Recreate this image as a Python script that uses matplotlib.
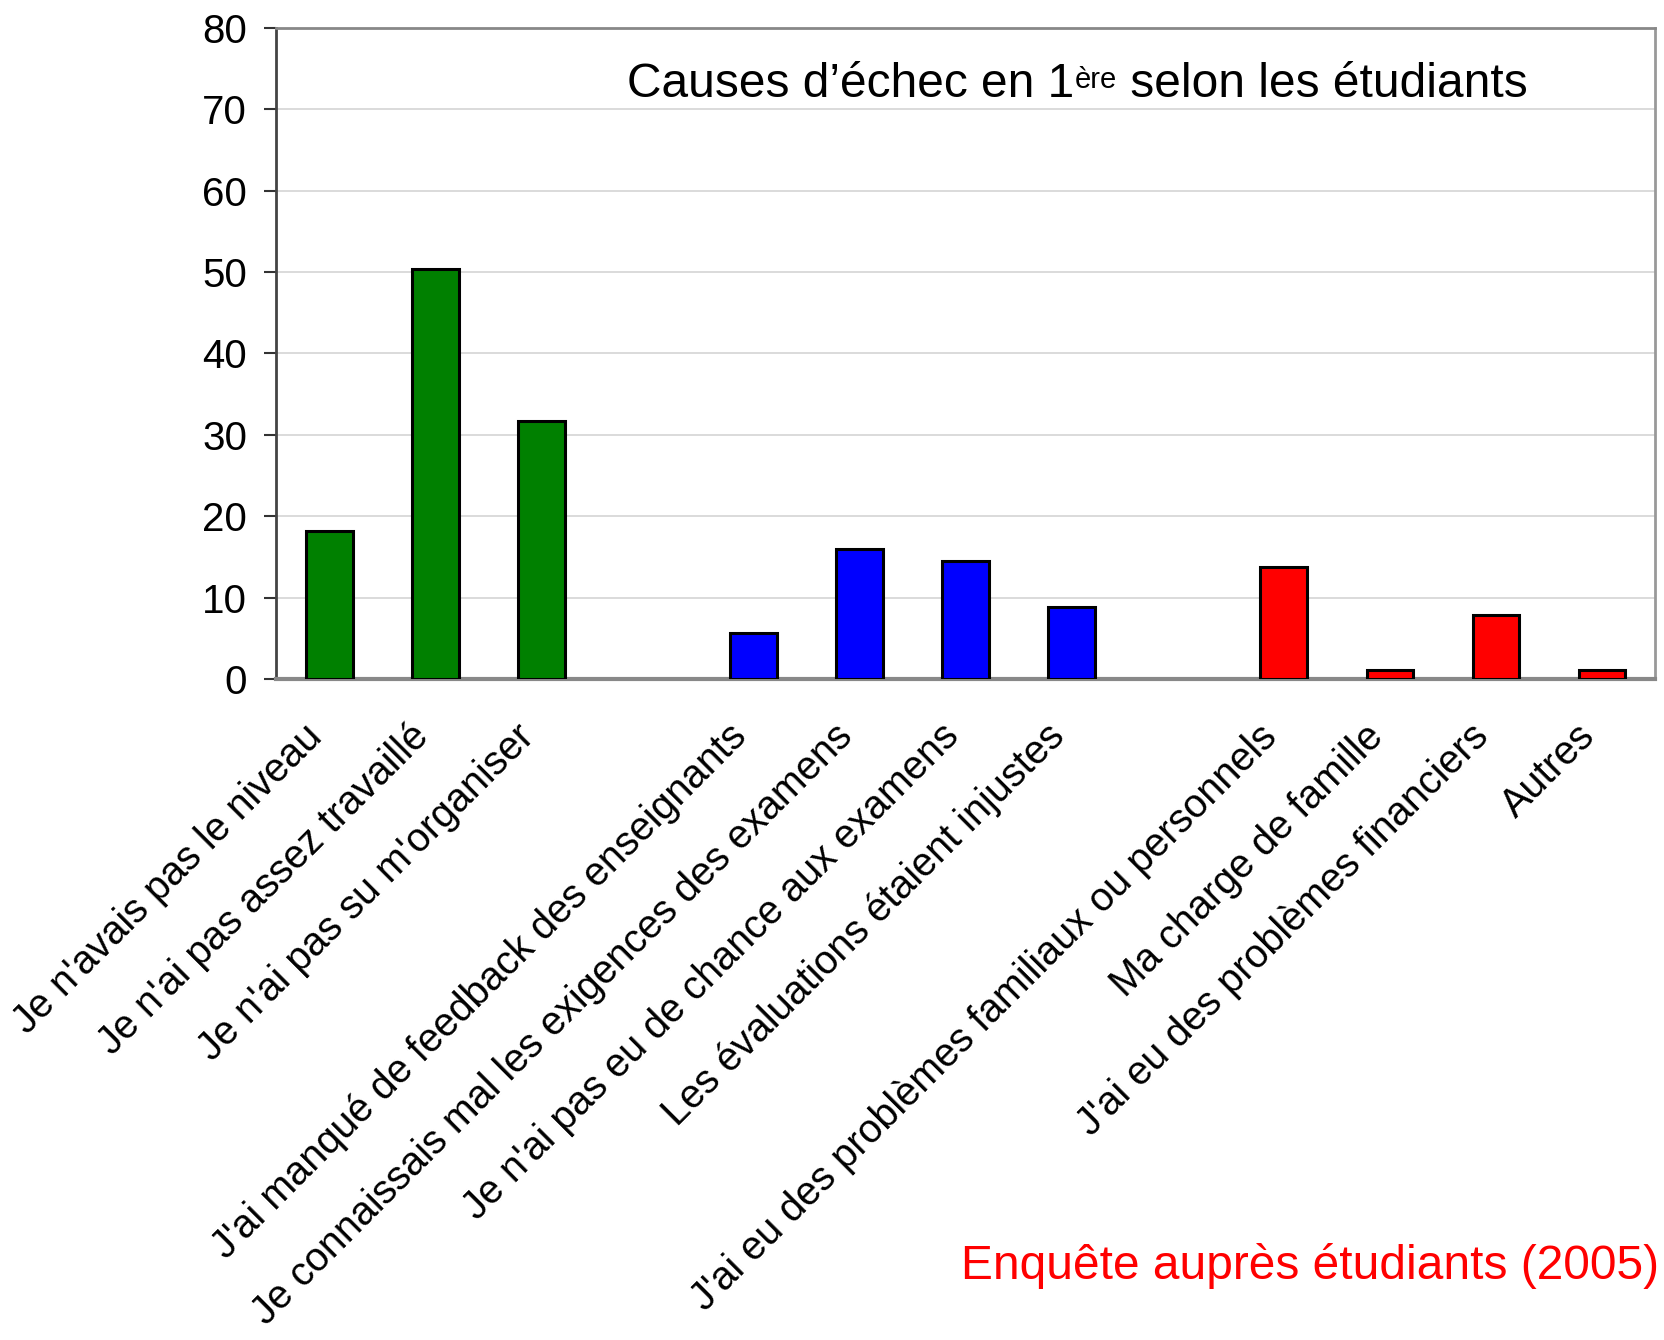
import matplotlib
matplotlib.use("Agg")
import matplotlib.pyplot as plt
from matplotlib.transforms import ScaledTranslation

plt.rcParams['font.family'] = ['Liberation Sans', 'DejaVu Sans']

# three groups of causes, separated by an empty slot
study_labels = ["Je n'avais pas le niveau", "Je n'ai pas assez travaillé",
                "Je n'ai pas su m'organiser"]
study_values = [18.2, 50.4, 31.7]

exam_labels = ["J'ai manqué de feedback des enseignants",
               "Je connaissais mal les exigences des examens",
               "Je n'ai pas eu de chance aux examens",
               "Les évaluations étaient injustes"]
exam_values = [5.6, 16.0, 14.5, 8.9]

perso_labels = ["J'ai eu des problèmes familiaux ou personnels",
                "Ma charge de famille",
                "J'ai eu des problèmes financiers",
                "Autres"]
perso_values = [13.7, 1.1, 7.8, 1.1]

groups = [(study_labels, study_values, '#008000'),
          (exam_labels, exam_values, '#0000ff'),
          (perso_labels, perso_values, '#ff0000')]

fig = plt.figure(figsize=(16.64, 13.4), dpi=100)
ax = fig.add_axes([0.166, 0.4933, 0.8286, 0.486])

ticks = []
ticklabels = []
pos = 0
for labels, values, color in groups:
    xs = list(range(pos, pos + len(values)))
    ax.bar(xs, values, width=0.44, color=color, edgecolor='black', linewidth=2.2, zorder=3)
    ticks += xs
    ticklabels += labels
    pos += len(values) + 1

ax.set_xlim(-0.5, pos - 1.5)
ax.set_ylim(0, 80)
ax.set_yticks(range(0, 81, 10))
ax.tick_params(axis='y', labelsize=29, length=9, width=1.5, color='#333333', pad=12)
ax.set_xticks(ticks)
ax.set_xticklabels(ticklabels, rotation=45, ha='right', va='center',
                   rotation_mode='anchor', fontsize=28.5)
ax.tick_params(axis='x', length=0, pad=40)
shift = ScaledTranslation(-0.13, 0.04, fig.dpi_scale_trans)
for lab in ax.get_xticklabels():
    lab.set_transform(lab.get_transform() + shift)

ax.grid(axis='y', color='#d4d4d4', linewidth=1.2, zorder=0)
ax.spines['left'].set_color('#444444')
ax.spines['left'].set_linewidth(2)
ax.spines['bottom'].set_color('#888888')
ax.spines['bottom'].set_linewidth(3)
ax.spines['top'].set_color('#888888')
ax.spines['top'].set_linewidth(2)
ax.spines['right'].set_color('#999999')
ax.spines['right'].set_linewidth(2)

# title with superscript "ère"
t1 = ax.text(0.2545, 0.894, "Causes d\u2019échec en 1", transform=ax.transAxes,
             fontsize=34.5, va='baseline', ha='left')
t2 = ax.annotate("ère", xy=(1, 1), xycoords=t1, fontsize=21, va='top', ha='left',
                 xytext=(0, -3), textcoords='offset points')
ax.annotate(" selon les étudiants", xy=(1, 0), xycoords=(t2, t1), fontsize=34.5,
            va='bottom', ha='left')

fig.text(0.997, 0.0455, "Enquête auprès étudiants (2005)", color='#ff0000',
         fontsize=34.5, va='baseline', ha='right')

fig.savefig('out.png', dpi=100)
